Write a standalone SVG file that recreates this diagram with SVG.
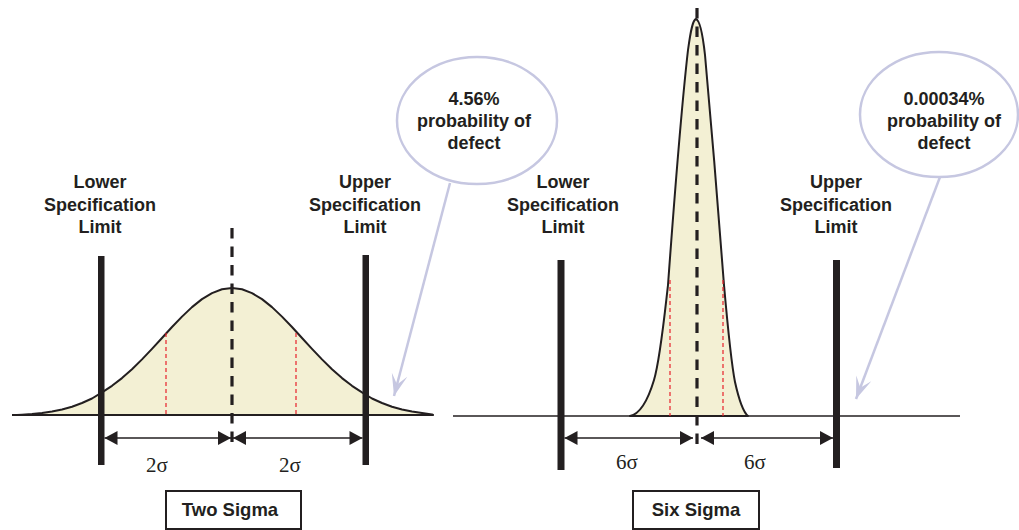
<svg xmlns="http://www.w3.org/2000/svg" width="1019" height="530" viewBox="0 0 1019 530">
<style>
.lbl{font-family:"Liberation Sans",Arial,sans-serif;font-weight:bold;font-size:18px;fill:#231f20;text-anchor:middle}
.box{font-family:"Liberation Sans",Arial,sans-serif;font-weight:bold;font-size:18.5px;fill:#231f20;text-anchor:middle}
.sig{font-family:"Liberation Serif","Times New Roman",serif;font-size:21px;fill:#231f20;text-anchor:middle}
.bar{fill:#231f20}
.base{stroke:#231f20;fill:none}
.curve{fill:#f3f0d4;stroke:#231f20;stroke-width:2;stroke-linejoin:round}
.red{stroke:#e8202a;stroke-width:1.2;stroke-dasharray:4 3;fill:none}
.mid{stroke:#231f20;stroke-width:3.2;stroke-dasharray:10.5 8;fill:none}
.bubble{fill:#fff;stroke:#c6c7e1;stroke-width:2.5}
.ptr{stroke:#c6c7e1;stroke-width:2.5;fill:none}
.dim{stroke:#231f20;stroke-width:1.5;fill:none;marker-start:url(#ah);marker-end:url(#ah)}
.frame{fill:#fff;stroke:#231f20;stroke-width:2}
</style>
<defs>
<marker id="ah" markerUnits="userSpaceOnUse" markerWidth="16" markerHeight="16" viewBox="-15 -8 16 16" refX="0" refY="0" orient="auto-start-reverse">
<path d="M0,0 L-13,-7 L-13,7 Z" fill="#231f20"/>
</marker>
<marker id="pa" markerUnits="userSpaceOnUse" markerWidth="26" markerHeight="20" viewBox="-24 -10 26 20" refX="0" refY="0" orient="auto">
<path d="M0,0 L-22,-8 L-12,0 L-22,8 Z" fill="#c6c7e1"/>
</marker>
</defs>

<g id="two-sigma-panel">
<line class="base" x1="12" y1="415" x2="433" y2="415" stroke-width="2"/>
<path id="two-sigma-curve" class="curve" d="M17,415 L22,414.7 32,414.1 42,413.1 52,411.6 62,409.5 72,406.7 82,403 92,398.5 102,392.4 112,385.8 122,378.1 132,369.2 142,359.4 152,348.9 162,338 172,327 182,316.6 192,307.1 202,299.1 212,293.1 222,289.3 232,288 242,289.3 252,293.1 262,299.1 272,307.1 282,316.6 292,327 302,338 312,348.9 322,359.4 332,369.2 342,378.1 352,385.8 362,392.4 372,398.5 382,403 392,406.7 402,409.5 412,411.6 422,413.1 432,414.5 L433,415 Z"/>
<line class="red" x1="166" y1="333" x2="166" y2="415"/>
<line class="red" x1="296" y1="333" x2="296" y2="415"/>
<line class="mid" x1="232" y1="228" x2="232" y2="447"/>
</g>

<g id="two-sigma-lsl">
<rect class="bar" x="98" y="256" width="6.5" height="209"/>
<text class="lbl" x="100" y="188">Lower</text>
<text class="lbl" x="100" y="210.5">Specification</text>
<text class="lbl" x="100" y="233">Limit</text>
</g>

<g id="two-sigma-usl">
<rect class="bar" x="362.5" y="255" width="6.5" height="210"/>
<text class="lbl" x="365" y="188">Upper</text>
<text class="lbl" x="365" y="210.5">Specification</text>
<text class="lbl" x="365" y="233">Limit</text>
</g>

<g id="two-sigma-bubble">
<ellipse class="bubble" cx="477" cy="120.5" rx="80" ry="63.5"/>
<text class="lbl" x="474" y="105">4.56%</text>
<text class="lbl" x="474" y="127">probability of</text>
<text class="lbl" x="474" y="149">defect</text>
</g>

<g id="two-sigma-title">
<rect class="frame" x="166" y="491" width="135" height="38"/>
<text class="box" x="230" y="516">Two Sigma</text>
</g>

<g id="six-sigma-panel">
<line class="base" x1="453" y1="416" x2="960" y2="416" stroke-width="1.5"/>
<path id="six-sigma-curve" class="curve" d="M630,416 C640,414 648,400 654,380 C660,360 664,320 668,285 C672,230 680,120 688,50 C691,28 693,20 696,19 C699,20 702,28 705,55 C711,120 720,230 724,285 C728,330 731,362 735,382 C739,400 743,412 748,416 Z"/>
<line class="red" x1="670" y1="280" x2="670" y2="416"/>
<line class="red" x1="723" y1="280" x2="723" y2="416"/>
<line class="mid" x1="697" y1="8" x2="697" y2="447"/>
</g>

<g id="six-sigma-lsl">
<rect class="bar" x="557.5" y="260" width="7" height="210"/>
<text class="lbl" x="563" y="188">Lower</text>
<text class="lbl" x="563" y="210.5">Specification</text>
<text class="lbl" x="563" y="233">Limit</text>
</g>

<g id="six-sigma-usl">
<rect class="bar" x="833" y="260" width="7" height="208"/>
<text class="lbl" x="836" y="188">Upper</text>
<text class="lbl" x="836" y="210.5">Specification</text>
<text class="lbl" x="836" y="233">Limit</text>
</g>

<g id="six-sigma-bubble">
<ellipse class="bubble" cx="939" cy="114.5" rx="79" ry="62.5"/>
<text class="lbl" x="944" y="105">0.00034%</text>
<text class="lbl" x="944" y="127">probability of</text>
<text class="lbl" x="944" y="149">defect</text>
</g>

<g id="six-sigma-title">
<rect class="frame" x="633" y="491" width="126" height="38"/>
<text class="box" x="696" y="516">Six Sigma</text>
</g>

<g id="connectors">
<line class="dim" x1="104.5" y1="438" x2="231" y2="438"/>
<line class="dim" x1="233" y1="438" x2="362.5" y2="438"/>
<line class="dim" x1="564.5" y1="438" x2="693" y2="438"/>
<line class="dim" x1="701" y1="438" x2="833" y2="438"/>
<path class="ptr" d="M450,183 L394,396" marker-end="url(#pa)"/>
<path class="ptr" d="M940,177 L856,399" marker-end="url(#pa)"/>
<text class="sig" x="157" y="472">2σ</text>
<text class="sig" x="290" y="472">2σ</text>
<text class="sig" x="627" y="469">6σ</text>
<text class="sig" x="755" y="469">6σ</text>
</g>
</svg>
